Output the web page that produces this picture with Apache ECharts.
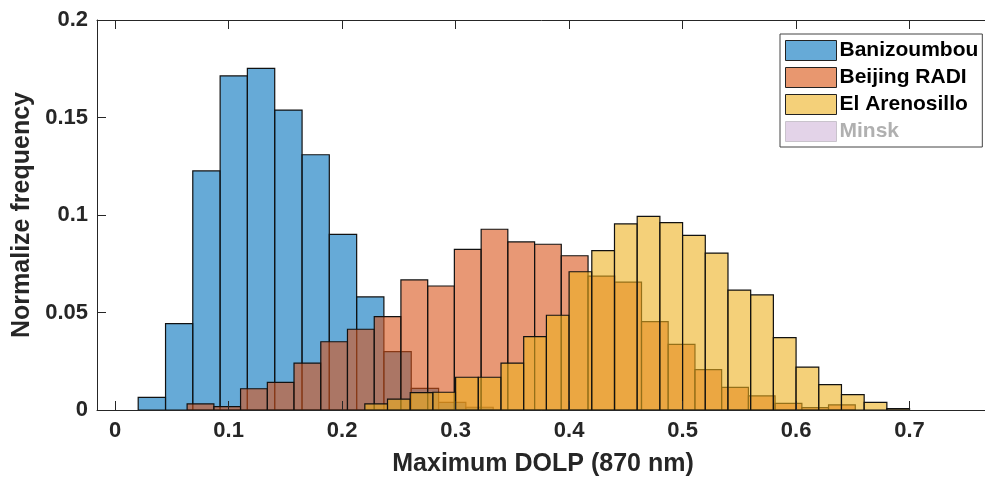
<!DOCTYPE html>
<html>
<head>
    <meta charset="utf-8">
    <title>Maximum DOLP histogram</title>
    <script src="https://cdn.jsdelivr.net/npm/echarts@6/dist/echarts.min.js"></script>
    <style>
        html, body { margin: 0; padding: 0; background: #fff; }
        #chart { width: 985px; height: 481px; }
    </style>
</head>
<body>
<div id="chart"></div>
<script>
    // bin edges (n+1) and normalized frequency (n) for each station
    var blueEdges = [0.0203, 0.0444, 0.0684, 0.0925, 0.1165, 0.1406, 0.1647, 0.1887, 0.2128, 0.2368, 0.2609, 0.2850, 0.3090, 0.3331];
    var blueValues = [0.0065, 0.0443, 0.1226, 0.1713, 0.1752, 0.1538, 0.1309, 0.0901, 0.0580, 0.0299, 0.0111, 0.0039, 0.0014];

    var orangeEdges = [0.0634, 0.0870, 0.1105, 0.1341, 0.1576, 0.1812, 0.2047, 0.2283, 0.2518, 0.2754, 0.2989, 0.3225, 0.3460, 0.3696,
        0.3931, 0.4167, 0.4402, 0.4638, 0.4873, 0.5109, 0.5344, 0.5580, 0.5815, 0.6051, 0.6286, 0.6522];
    var orangeValues = [0.0031, 0.0017, 0.0109, 0.0142, 0.0240, 0.0350, 0.0414, 0.0479, 0.0667, 0.0636, 0.0824, 0.0927, 0.0862,
        0.0850, 0.0791, 0.0687, 0.0656, 0.0453, 0.0337, 0.0207, 0.0116, 0.0072, 0.0034, 0.0012, 0.0026];

    var yellowEdges = [0.22, 0.24, 0.26, 0.28, 0.30, 0.32, 0.34, 0.36, 0.38, 0.40, 0.42, 0.44, 0.46, 0.48, 0.50, 0.52, 0.54,
        0.56, 0.58, 0.60, 0.62, 0.64, 0.66, 0.68, 0.70];
    var yellowValues = [0.0031, 0.0056, 0.0089, 0.0091, 0.0168, 0.0168, 0.0240, 0.0376, 0.0486, 0.0709, 0.0817, 0.0954, 0.0993,
        0.0961, 0.0896, 0.0805, 0.0615, 0.0590, 0.0371, 0.0220, 0.0130, 0.0079, 0.0039, 0.0007];

    var stations = ['Banizoumbou', 'Beijing RADI', 'El Arenosillo', 'Minsk'];
    var xTicks = [0, 0.1, 0.2, 0.3, 0.4, 0.5, 0.6, 0.7];

    var font = '"Liberation Sans", Arial, Helvetica, sans-serif';
    var axisColor = '#262626';

    function toBins(edges, values) {
        var out = [];
        for (var i = 0; i < values.length; i++) {
            out.push([edges[i], edges[i + 1], values[i]]);
        }
        return out;
    }

    function histRender(fill) {
        return function (params, api) {
            var p0 = api.coord([api.value(0), api.value(2)]);
            var p1 = api.coord([api.value(1), 0]);
            return {
                type: 'rect',
                shape: {x: p0[0], y: p0[1], width: p1[0] - p0[0], height: p1[1] - p0[1]},
                style: {fill: fill, stroke: '#111', lineWidth: 1.2}
            };
        };
    }

    var fills = ['rgba(0,114,189,0.6)', 'rgba(217,83,25,0.6)', 'rgba(237,177,32,0.6)', '#e3d3e8'];

    var myChart = echarts.init(document.getElementById('chart'));
    myChart.setOption({
        animation: false,
        grid: {left: 97, right: -4, top: 20, bottom: 71, outerBoundsMode: 'none'},
        legend: {
            orient: 'vertical',
            left: 780,
            top: 34,
            padding: [6, 4, 5, 5],
            itemWidth: 51,
            itemHeight: 20,
            itemGap: 6,
            icon: 'rect',
            borderColor: '#444',
            borderWidth: 1,
            backgroundColor: '#fff',
            textStyle: {fontFamily: font, fontWeight: 'bold', fontSize: 21, color: '#000', padding: [0, 0, 0, -2]},
            data: [
                {name: stations[0], itemStyle: {color: '#66aad7', borderColor: '#222', borderWidth: 1}},
                {name: stations[1], itemStyle: {color: '#e8976f', borderColor: '#222', borderWidth: 1}},
                {name: stations[2], itemStyle: {color: '#f4d079', borderColor: '#222', borderWidth: 1}},
                {name: stations[3], itemStyle: {color: '#e3d3e8', borderColor: '#c9c3cc', borderWidth: 1},
                    textStyle: {color: '#b0b0b0'}}
            ]
        },
        xAxis: [{
            type: 'value',
            min: -0.016,
            max: 0.77,
            position: 'bottom',
            z: 5,
            name: 'Maximum DOLP (870 nm)',
            nameLocation: 'middle',
            nameGap: 42,
            nameTextStyle: {fontFamily: font, fontWeight: 'bold', fontSize: 25, color: axisColor},
            axisLine: {show: true, onZero: false, lineStyle: {color: axisColor, width: 1}},
            axisTick: {show: true, inside: true, length: 9, customValues: xTicks, lineStyle: {color: axisColor}},
            axisLabel: {customValues: xTicks, margin: 10, fontFamily: font, fontWeight: 'bold', fontSize: 22, color: axisColor},
            splitLine: {show: false}
        }, {
            type: 'value',
            min: -0.016,
            max: 0.77,
            position: 'top',
            z: 5,
            axisLine: {show: true, onZero: false, lineStyle: {color: axisColor, width: 1}},
            axisTick: {show: true, inside: true, length: 9, customValues: xTicks, lineStyle: {color: axisColor}},
            axisLabel: {show: false},
            splitLine: {show: false}
        }],
        yAxis: {
            type: 'value',
            min: 0,
            max: 0.2,
            interval: 0.05,
            z: 5,
            name: 'Normalize frequency',
            nameLocation: 'middle',
            nameGap: 62,
            nameTextStyle: {fontFamily: font, fontWeight: 'bold', fontSize: 25, color: axisColor},
            axisLine: {show: true, onZero: false, lineStyle: {color: axisColor, width: 1}},
            axisTick: {show: true, inside: true, length: 9, lineStyle: {color: axisColor}},
            axisLabel: {margin: 9, fontFamily: font, fontWeight: 'bold', fontSize: 22, color: axisColor},
            splitLine: {show: false}
        },
        series: [
            {name: stations[0], type: 'custom', renderItem: histRender(fills[0]), encode: {x: [0, 1], y: 2},
                itemStyle: {color: '#66aad7'}, data: toBins(blueEdges, blueValues)},
            {name: stations[1], type: 'custom', renderItem: histRender(fills[1]), encode: {x: [0, 1], y: 2},
                itemStyle: {color: '#e8976f'}, data: toBins(orangeEdges, orangeValues)},
            {name: stations[2], type: 'custom', renderItem: histRender(fills[2]), encode: {x: [0, 1], y: 2},
                itemStyle: {color: '#f4d079'}, data: toBins(yellowEdges, yellowValues)},
            {name: stations[3], type: 'custom', renderItem: histRender(fills[3]), encode: {x: [0, 1], y: 2},
                itemStyle: {color: '#e3d3e8'}, data: []}
        ]
    });
</script>
</body>
</html>
